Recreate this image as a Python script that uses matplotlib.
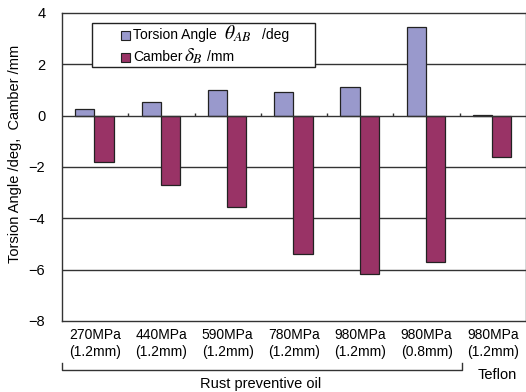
import matplotlib.pyplot as plt
import matplotlib.transforms as mtransforms
from matplotlib.patches import Rectangle
import numpy as np

plt.rcParams['font.family'] = ['Liberation Sans', 'DejaVu Sans']
plt.rcParams['mathtext.fontset'] = 'stix'

categories = ["270MPa\n(1.2mm)", "440MPa\n(1.2mm)", "590MPa\n(1.2mm)", "780MPa\n(1.2mm)",
              "980MPa\n(1.2mm)", "980MPa\n(0.8mm)", "980MPa\n(1.2mm)"]
torsion = [0.25, 0.55, 1.0, 0.92, 1.12, 3.45, 0.03]
camber = [-1.8, -2.7, -3.55, -5.4, -6.15, -5.7, -1.6]
group_labels = ["Rust preventive oil", "Teflon"]
colors = ['#9999CC', '#993366']

fig = plt.figure(figsize=(5.26, 3.92), dpi=100)
ax = fig.add_axes([62/526, 1-321/392, 464/526, 308/392])

x = np.arange(len(categories))
w = 0.29
ax.bar(x - w/2 - 0.01, torsion, w, color=colors[0], edgecolor='#222222', linewidth=0.9, zorder=3)
ax.bar(x + w/2 - 0.01, camber, w, color=colors[1], edgecolor='#222222', linewidth=0.9, zorder=3)

ax.set_xlim(-0.5, 6.5)
ax.set_ylim(-8, 4)
ax.set_yticks([-8, -6, -4, -2, 0, 2, 4])
for v in [-6, -4, -2, 2]:
    ax.axhline(v, color='#333333', lw=1.0, zorder=1)
ax.axhline(0, color='#333333', lw=1.0, zorder=4)
ax.vlines(np.arange(0.5, 6.5, 1), 0, 0.12, color='#333333', lw=1.0, zorder=4)

for s in ax.spines.values():
    s.set_color('#333333')
    s.set_linewidth(1.0)

ax.set_xticks(x)
ax.set_xticklabels(categories, fontsize=10, linespacing=1.3)
ax.tick_params(axis='x', length=0, pad=5)
ax.tick_params(axis='y', length=0, pad=12, labelsize=10.5)

# pixel coordinates (origin top-left) for the hand-made legend and labels
pxt = mtransforms.Affine2D().scale(1/526, -1/392).translate(0, 1) + fig.transFigure

fig.text(15, 154, 'Torsion Angle /deg,  Camber /mm', transform=pxt, rotation=90,
         ha='center', va='center', fontsize=10.5)

# group bracket below the tick labels
ax.plot([-0.5, -0.5, 5.53, 5.53], [-9.62, -9.9, -9.9, -9.62], color='#333333', lw=1.0, clip_on=False)
ax.text(2.5, -10.45, group_labels[0], ha='center', va='center', fontsize=10.5)
ax.text(6.07, -10.1, group_labels[1], ha='center', va='center', fontsize=10.5)

# legend box
fig.add_artist(Rectangle((92, 23), 223, 44, transform=pxt, facecolor='white',
                         edgecolor='#222222', lw=1.0, zorder=5))
rows = [(35, 'Torsion Angle', r'$\theta_{AB}$', 224, '/deg', 262),
        (57, 'Camber', r'$\delta_{B}$', 184, '/mm', 207)]
for (yc, name, sym, xs, unit, xu), c in zip(rows, colors):
    fig.add_artist(Rectangle((121, yc - 4.5), 9, 9, transform=pxt, facecolor=c,
                             edgecolor='#222222', lw=0.8, zorder=6))
    fig.text(133, yc, name, transform=pxt, ha='left', va='center', fontsize=10, zorder=6)
    fig.text(xs, yc - 1, sym, transform=pxt, ha='left', va='center', fontsize=14, zorder=6)
    fig.text(xu, yc, unit, transform=pxt, ha='left', va='center', fontsize=10, zorder=6)

fig.savefig('out.png', dpi=100)
